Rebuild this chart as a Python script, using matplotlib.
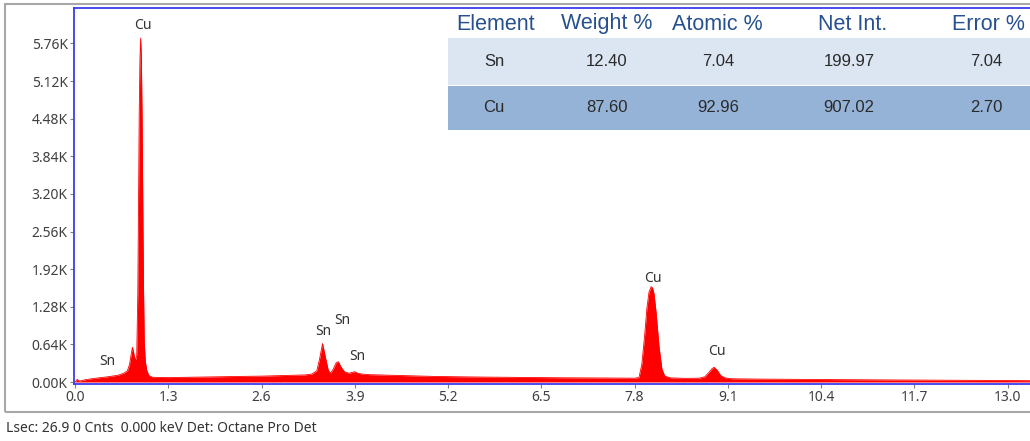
import matplotlib
matplotlib.use("Agg")
import matplotlib.pyplot as plt
from matplotlib.patches import Rectangle

# EDS spectrum (keV, counts)
energy = [0.00, 0.03, 0.06, 0.15, 0.27, 0.45, 0.60, 0.68, 0.73, 0.76,
          0.78, 0.80, 0.815, 0.83, 0.845, 0.86, 0.875, 0.885, 0.895, 0.905,
          0.915, 0.925, 0.935, 0.945, 0.955, 0.965, 0.98, 1.00, 1.03, 1.08,
          1.3, 1.8, 2.3, 2.6, 2.9, 3.2, 3.30, 3.37, 3.41, 3.45,
          3.49, 3.53, 3.56, 3.60, 3.64, 3.67, 3.71, 3.76, 3.82, 3.87,
          3.90, 3.94, 4.0, 4.1, 4.4, 5.0, 5.6, 6.2, 6.8, 7.4,
          7.8, 7.86, 7.90, 7.94, 7.97, 8.00, 8.03, 8.05, 8.07, 8.10,
          8.14, 8.18, 8.22, 8.3, 8.5, 8.7, 8.78, 8.84, 8.88, 8.91,
          8.95, 9.0, 9.06, 9.15, 9.5, 10.4, 11.7, 13.0, 13.4]
counts = [0, 45, 15, 40, 62, 88, 115, 150, 190, 300,
          450, 590, 520, 410, 380, 450, 1500, 3000, 4600, 5500,
          5850, 5500, 4500, 3000, 1600, 700, 350, 200, 110, 80,
          75, 85, 95, 100, 110, 120, 135, 190, 400, 655,
          420, 200, 150, 220, 330, 345, 250, 170, 150, 165,
          175, 150, 135, 125, 115, 95, 85, 78, 72, 68,
          65, 75, 300, 800, 1250, 1530, 1622, 1600, 1500, 1170,
          600, 220, 100, 70, 62, 65, 90, 170, 230, 250,
          200, 110, 70, 55, 50, 42, 33, 25, 22]

# peak labels
peak_names = ["Sn", "Cu", "Sn", "Sn", "Sn", "Cu", "Cu"]
peak_x = [0.45, 0.95, 3.46, 3.72, 3.94, 8.06, 8.94]
peak_y = [341, 6070, 853, 1040, 426, 1757, 512]

xticks = [0.0, 1.3, 2.6, 3.9, 5.2, 6.5, 7.8, 9.1, 10.4, 11.7, 13.0]
yticks = [0, 640, 1280, 1920, 2560, 3200, 3840, 4480, 5120, 5760]

# quantification table
col_names = ["Element", "Weight %", "Atomic %", "Net Int.", "Error %"]
elements = ["Sn", "Cu"]
weight_pct = ["12.40", "87.60"]
atomic_pct = ["7.04", "92.96"]
net_int = ["199.97", "907.02"]
error_pct = ["7.04", "2.70"]

W, H = 1030, 441
fig = plt.figure(figsize=(W / 100, H / 100), dpi=100)
fig.patch.set_facecolor("white")

def fx(px):
    return px / W

def fy(py):
    return 1 - py / H

# outer grey frame
fig.patches.append(Rectangle((fx(5), fy(411.5)), fx(1040) - fx(5), fy(4) - fy(411.5),
                             transform=fig.transFigure, fill=False,
                             edgecolor="#a8a8a8", lw=1.5))

ax = fig.add_axes([fx(74), fy(384), fx(1030) - fx(74), fy(8) - fy(384)])
ax.fill_between(energy, counts, 0, color="#ff0000", lw=0)
ax.plot(energy, counts, color="#ff0000", lw=0.6)
ax.set_xlim(-0.014, 13.31)
ax.set_ylim(-34, 6364)

blue = "#3b3bf0"
for s in ["left", "top", "bottom"]:
    ax.spines[s].set_color(blue)
    ax.spines[s].set_linewidth(1.3)
ax.spines["right"].set_visible(False)

tick_font = {"family": "Noto Sans", "size": 10}
ax.set_xticks(xticks)
ax.set_xticklabels([f"{v:.1f}" for v in xticks], fontdict=tick_font, color="#404040")
ax.set_yticks(yticks)
ax.set_yticklabels([f"{v / 1000:.2f}K" for v in yticks], fontdict=tick_font, color="#404040")
ax.tick_params(axis="both", length=3, width=0.8, color="#808080", pad=1.5)

for name, x, y in zip(peak_names, peak_x, peak_y):
    ax.text(x, y, name, ha="center", va="center", color="#333333",
            family="Noto Sans", fontsize=10)

# table drawn in pixel-based figure coords
row_tops = [38, 86]
row_bottoms = [84.5, 130]
row_colors = ["#dce6f2", "#95b3d7"]
for top, bot, c in zip(row_tops, row_bottoms, row_colors):
    fig.patches.append(Rectangle((fx(447.5), fy(bot)), fx(1035) - fx(447.5), fy(top) - fy(bot),
                                 transform=fig.transFigure, color=c, lw=0, zorder=3))

head_x = [496, 607, 717, 853, 988]
body_x = [494, 607, 718, 849, 986]
for name, x in zip(col_names, head_x):
    fig.text(fx(x), fy(24), name, ha="center", va="center", color="#26508f",
             family="Liberation Sans", fontsize=15.5, zorder=4)
rows = list(zip(elements, weight_pct, atomic_pct, net_int, error_pct))
row_text_y = [61, 108]
for row, ty in zip(rows, row_text_y):
    for val, x in zip(row, body_x):
        fig.text(fx(x), fy(ty), val, ha="center", va="center", color="#2a2a2a",
                 family="Liberation Sans", fontsize=12, zorder=4)

fig.text(fx(6), fy(429), "Lsec: 26.9 0 Cnts  0.000 keV Det: Octane Pro Det",
         ha="left", va="center", color="#333333", family="Noto Sans", fontsize=10)

fig.savefig("out.png", dpi=100)
